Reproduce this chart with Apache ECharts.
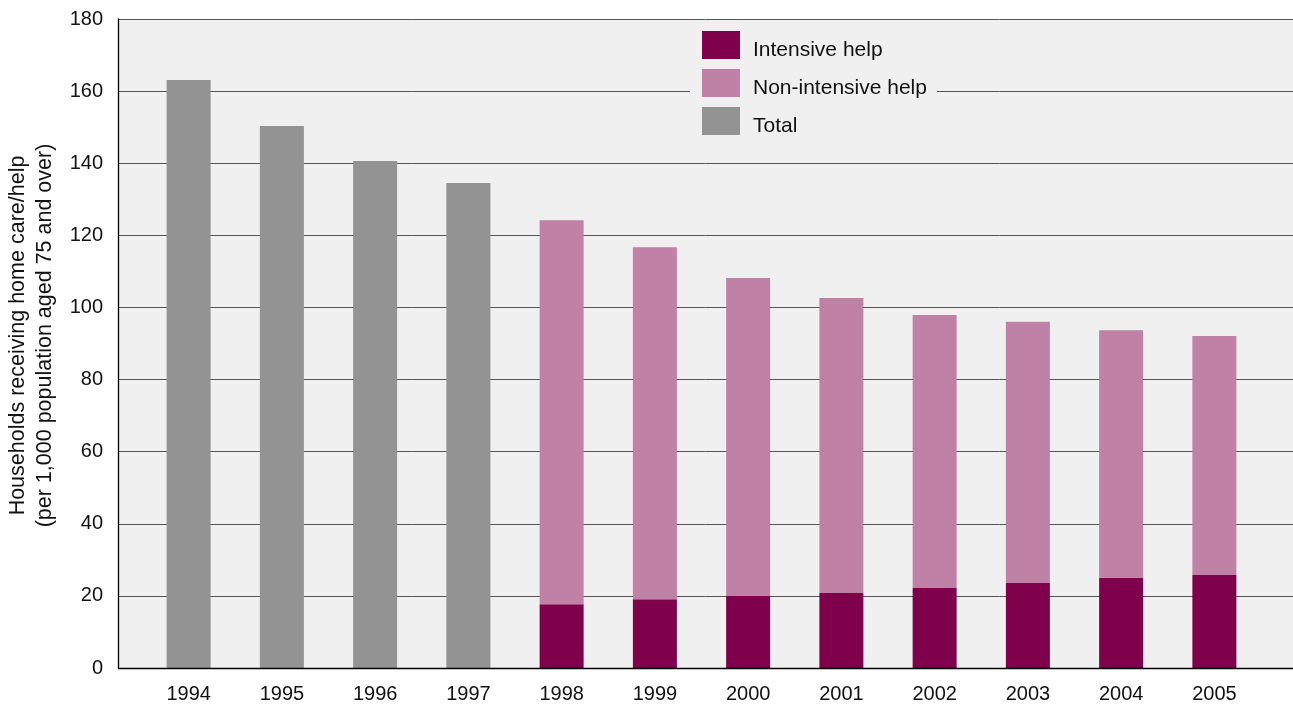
<!DOCTYPE html>
<html>
<head>
<meta charset="utf-8">
<script src="https://cdn.jsdelivr.net/npm/echarts@6/dist/echarts.min.js"></script>
<style>
html,body{margin:0;padding:0;background:#fff;}
#c{width:1293px;height:704px;}
</style>
</head>
<body>
<div id="c"></div>
<script>
const years = ['1994','1995','1996','1997','1998','1999','2000','2001','2002','2003','2004','2005'];
const totalValues = [163.1, 150.3, 140.6, 134.5, '-', '-', '-', '-', '-', '-', '-', '-'];
const intensiveValues = ['-', '-', '-', '-', 17.7, 19.1, 20.0, 20.8, 22.2, 23.6, 25.0, 25.8];
const nonIntensiveValues = ['-', '-', '-', '-', 106.5, 97.6, 88.2, 81.8, 75.7, 72.4, 68.7, 66.3];
const yTicks = [0, 20, 40, 60, 80, 100, 120, 140, 160, 180];

const font = '"Liberation Sans", Arial, Helvetica, sans-serif';
const chart = echarts.init(document.getElementById('c'), null, {renderer: 'canvas'});
chart.setOption({
  animation: false,
  textStyle: {fontFamily: font},
  grid: [
    {left: 118, right: 0, top: 19, bottom: 36, show: true, backgroundColor: '#f0f0f0', borderWidth: 0,
     containLabel: false, outerBoundsMode: 'none'},
    {left: 142, right: 32, top: 19, bottom: 36, containLabel: false, outerBoundsMode: 'none'}
  ],
  legend: {
    data: ['Intensive help', 'Non-intensive help', 'Total'],
    orient: 'vertical',
    left: 690,
    top: 29,
    icon: 'rect',
    itemWidth: 38,
    itemHeight: 28,
    itemGap: 8,
    padding: [2, 10, 2, 12],
    backgroundColor: '#f0f0f0',
    formatter: '{t|{name}}',
    textStyle: {fontSize: 21, color: '#111', fontFamily: font,
      rich: {t: {fontSize: 21, color: '#111', fontFamily: font, padding: [11, 0, 0, 8]}}}
  },
  xAxis: [
    {gridIndex: 0, type: 'value', min: 0, max: 1, show: true,
     axisLine: {show: false}, axisTick: {show: false}, axisLabel: {show: false}, splitLine: {show: false}},
    {gridIndex: 1, type: 'category', data: years,
     axisLine: {show: false}, axisTick: {show: false},
     axisLabel: {fontSize: 20, color: '#111', margin: 16, fontFamily: font}}
  ],
  yAxis: [
    {gridIndex: 0, type: 'value', min: 0, max: 180, interval: 20,
     name: 'Households receiving home care/help\n(per 1,000 population aged 75 and over)',
     nameLocation: 'middle', nameGap: 54, nameRotate: 90,
     nameTextStyle: {fontSize: 21.5, color: '#111', lineHeight: 27, fontFamily: font, padding: [0, 0, 0, 16]},
     axisLine: {show: true, lineStyle: {color: '#000', width: 1.3}},
     axisTick: {show: false},
     axisLabel: {fontSize: 20, color: '#111', margin: 15, fontFamily: font,
       formatter: v => yTicks.includes(v) ? String(v) : ''},
     splitLine: {show: true, lineStyle: {color: '#555', width: 1}}},
    {gridIndex: 1, type: 'value', min: 0, max: 180, interval: 20, show: false, splitLine: {show: false}}
  ],
  series: [
    {name: 'Total', type: 'bar', xAxisIndex: 1, yAxisIndex: 1, stack: 's', barWidth: 44,
     data: totalValues, itemStyle: {color: '#939393'}},
    {name: 'Intensive help', type: 'bar', xAxisIndex: 1, yAxisIndex: 1, stack: 's', barWidth: 44,
     data: intensiveValues, itemStyle: {color: '#7f004b'}},
    {name: 'Non-intensive help', type: 'bar', xAxisIndex: 1, yAxisIndex: 1, stack: 's', barWidth: 44,
     data: nonIntensiveValues, itemStyle: {color: '#bf81a6'}},
    {type: 'line', xAxisIndex: 0, yAxisIndex: 0, data: [], silent: true,
     markLine: {silent: true, symbol: 'none', label: {show: false},
       lineStyle: {color: '#000', width: 1.3, type: 'solid'},
       data: [{yAxis: 0}]}}
  ]
});
</script>
</body>
</html>
